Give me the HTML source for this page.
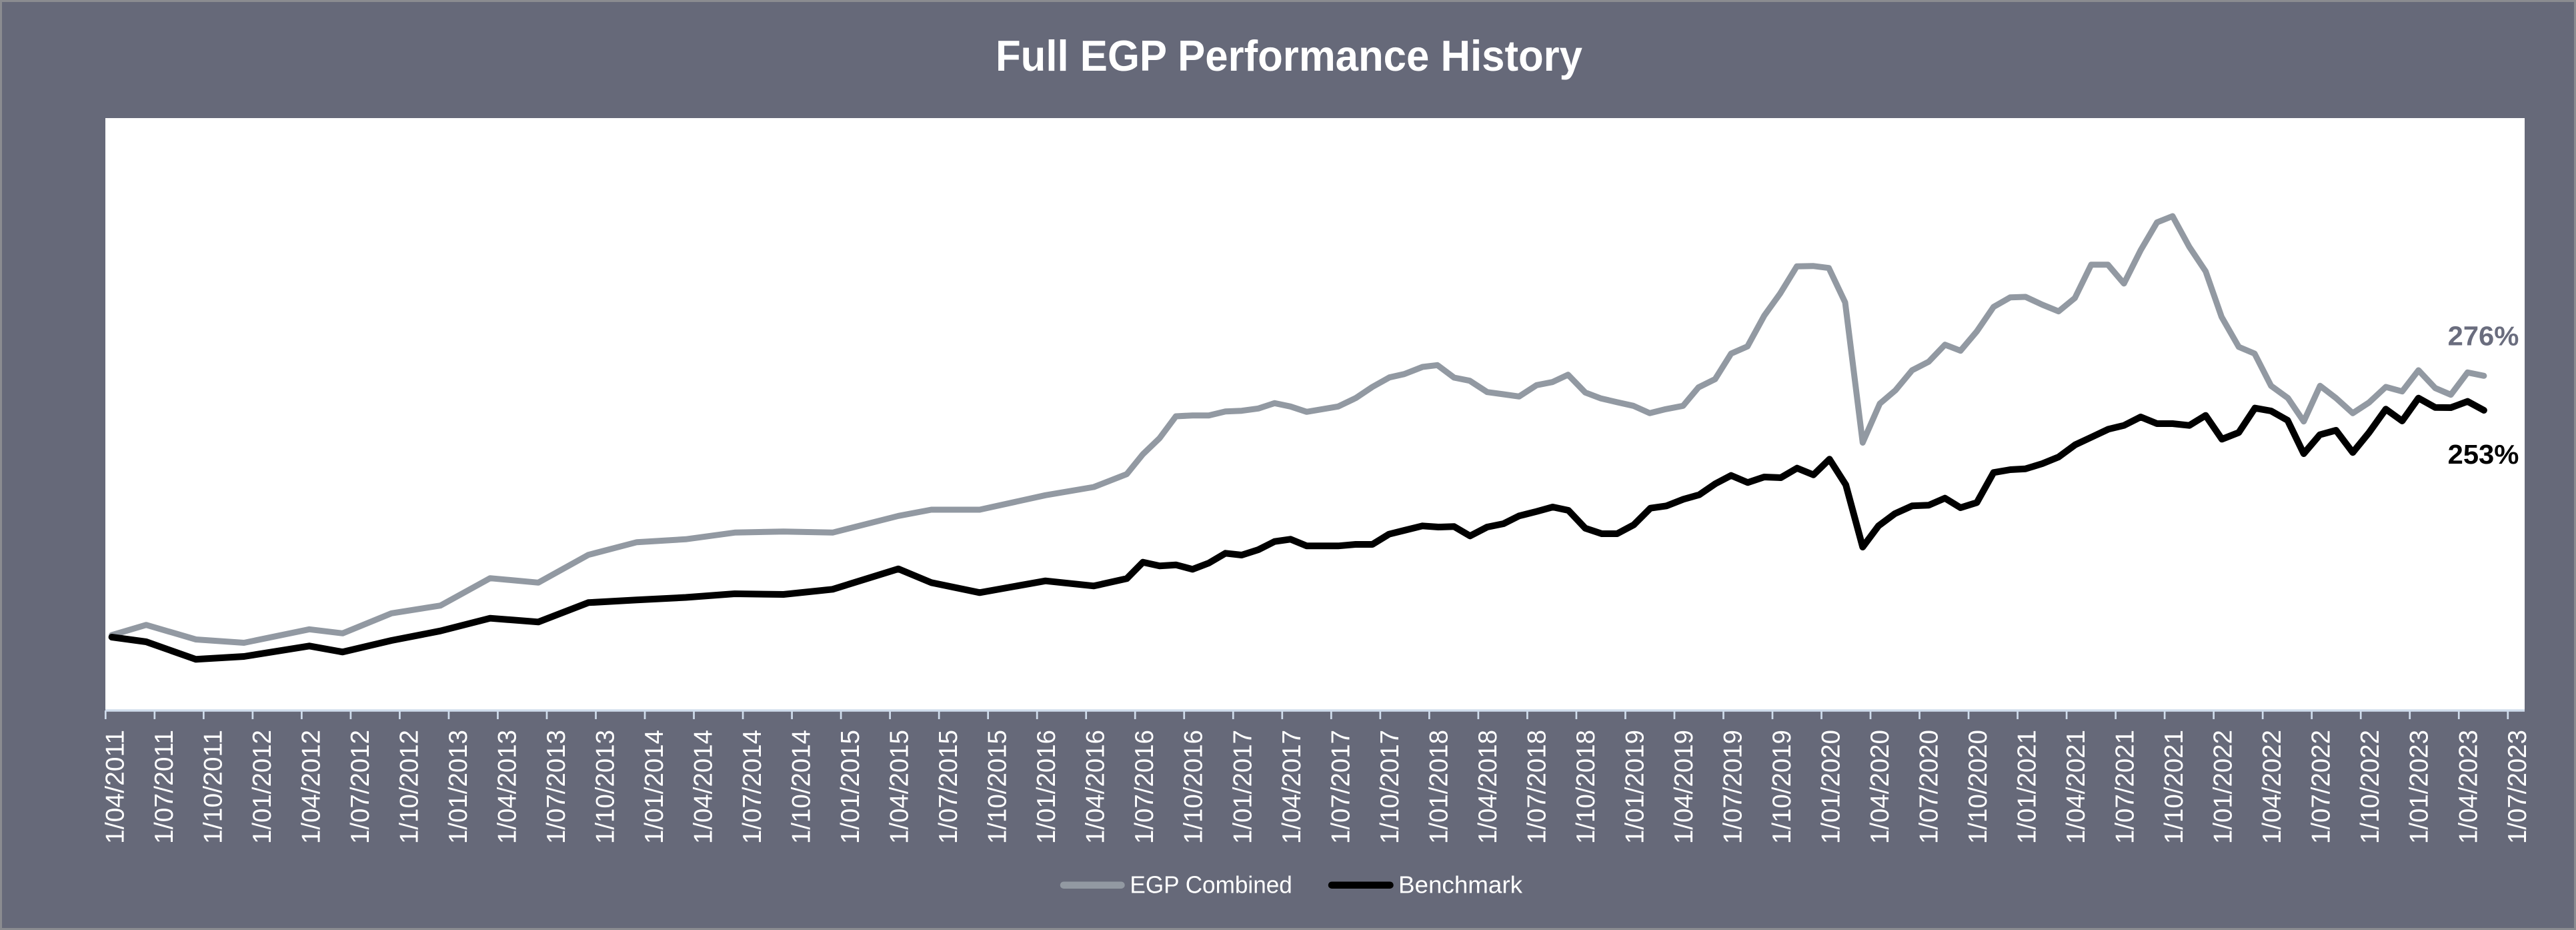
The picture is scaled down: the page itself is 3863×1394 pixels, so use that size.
<!DOCTYPE html>
<html>
<head>
<meta charset="utf-8">
<style>
html,body{margin:0;padding:0;background:#666979;}
svg{display:block;}
text{font-family:"Liberation Sans",Arial,sans-serif;}
</style>
</head>
<body>
<svg width="3863" height="1394" viewBox="0 0 3863 1394" xmlns="http://www.w3.org/2000/svg">
<rect x="0" y="0" width="3863" height="1394" fill="#666979"/>
<rect x="1.5" y="1.5" width="3860" height="1391" fill="none" stroke="#8b8c90" stroke-width="3"/>
<text x="1493" y="106" font-size="65" font-weight="bold" fill="#ffffff" textLength="880" lengthAdjust="spacingAndGlyphs">Full EGP Performance History</text>
<rect x="158" y="177" width="3628" height="888" fill="#ffffff"/>
<line x1="158" y1="1065" x2="3786" y2="1065" stroke="#cfdcec" stroke-width="3.4"/>
<g id="ticks" stroke="#cfdcec" stroke-width="2.7"></g>
<g id="labels" fill="#ffffff" font-size="39"></g>
<polyline fill="none" stroke="#9299a2" stroke-width="9" stroke-linejoin="round" stroke-linecap="round" points="167.6,952 219.2,936.7 293.8,958.5 365.9,963.5 463.9,943.3 513.8,949.3 587.1,919.3 660.5,907.7 735,866.7 807.2,873.3 882.3,831.7 955,812.7 1028.3,808.3 1101.8,798.3 1174.9,796.7 1248.6,798.3 1347.3,773.3 1396.6,764 1469.1,764 1567.8,742.3 1640.3,730 1689.7,710.7 1714,680.7 1739,656.7 1763.4,624 1788.3,622.7 1812.7,622.7 1837.7,616.7 1862,615.7 1887,612.3 1911.4,604.3 1935.2,609.3 1959.5,617.3 2006.7,609.3 2033,596.7 2058,580 2083.7,565.7 2105.9,560.7 2133.3,550 2155.5,547.3 2180.6,566 2204,570.7 2230.2,587.7 2254.7,591 2278,594.3 2304.3,577.3 2328,572.7 2351.5,561.7 2377.2,588.3 2401,597.3 2424.5,602.7 2449.5,608.3 2474,619.3 2498,613.3 2524,608.3 2547,580.7 2572,568.3 2596,530 2620.5,519.3 2645.6,473.3 2669.5,440 2694.5,399.3 2718.9,398.7 2742.5,401.7 2767,453.3 2793.3,663.5 2819,605 2842.5,585 2867.4,555 2892.2,542.3 2916.7,516.7 2940,525.7 2964.5,496.7 2989.6,460 3014.7,445.7 3037.5,445 3062.6,456.7 3087.1,466.7 3111.5,446.7 3136,396.7 3161,396.7 3185.1,425 3210.2,375 3234.7,333.3 3258,324 3283.1,370 3307.6,406.7 3331.5,475 3357.3,520 3381,530 3405.7,578.3 3431,596.7 3454.7,631.7 3479.2,578.3 3503.1,596.7 3528.2,619.3 3552.7,603.3 3577.8,580 3602.3,586.7 3626.8,555 3651.9,581.7 3675.3,591.7 3700.4,558.3 3724.9,563.3"/>
<polyline fill="none" stroke="#000000" stroke-width="10" stroke-linejoin="round" stroke-linecap="round" points="167.6,955 219.2,962 293.8,988.3 365.9,984 463.9,968.3 513.8,977.3 587.1,960 660.5,945.7 735,926.7 807.2,932.3 882.3,903.3 955,899.3 1028.3,895.5 1101.8,890 1174.9,891 1248.6,883.3 1347.3,852.7 1396.6,873.3 1469.1,888.3 1567.8,870.7 1640.3,878.3 1689.7,867.3 1714,842.7 1739,848.3 1763.4,846.7 1788.3,853.3 1812.7,844 1837.7,829.3 1862,832 1887,824 1911.4,811.7 1935.2,808.3 1959.5,818.3 2006.7,818.3 2033,816 2058,816 2083,800.7 2105.9,795 2133,788.3 2157,790 2180.6,789.3 2204.5,803.3 2230.2,790 2254.7,785 2278,773.3 2304.3,766.7 2328.5,760 2352,765 2377.2,791.7 2402,800 2425,800 2450,786.7 2475,761.7 2499,758.3 2524.5,748.3 2548,741.7 2572.5,725 2596,712.7 2621,723.3 2645.6,715 2670.5,716 2695,701.7 2719.5,711.7 2743.5,688.3 2768,726.7 2793.3,820 2817,788.3 2841.5,770 2867.4,758.3 2892.2,757.3 2916.7,746.7 2940,761 2964.5,753.3 2989.6,708.3 3014.7,704 3037.5,702.7 3062.6,695 3087.1,685 3112,666.7 3137,655 3161.8,643.3 3185.1,637.7 3210.2,625 3234.7,635 3258,635 3283.1,637.7 3307.6,622.7 3332,658.3 3357.3,648.3 3381.5,611.7 3405.7,616 3430.5,630 3454.7,680 3478.8,651.7 3503.1,645 3528.2,678.3 3552.7,648.3 3577.8,613.3 3602.3,631 3626.8,596.7 3651.9,610.7 3675.3,611 3700.4,601.7 3724.9,615"/>
<text x="3670.6" y="517.3" font-size="41" font-weight="bold" fill="#6a6d7e" textLength="106.8" lengthAdjust="spacingAndGlyphs">276%</text>
<text x="3670.6" y="695" font-size="41" font-weight="bold" fill="#000000" textLength="106.8" lengthAdjust="spacingAndGlyphs">253%</text>
<line x1="1595" y1="1326.7" x2="1681.5" y2="1326.7" stroke="#9299a2" stroke-width="10.5" stroke-linecap="round"/>
<text x="1694.4" y="1338.3" font-size="36" fill="#ffffff" textLength="243.4" lengthAdjust="spacingAndGlyphs">EGP Combined</text>
<line x1="1997" y1="1326.7" x2="2084.5" y2="1326.7" stroke="#000000" stroke-width="10.5" stroke-linecap="round"/>
<text x="2097" y="1338.3" font-size="36" fill="#ffffff" textLength="186" lengthAdjust="spacingAndGlyphs">Benchmark</text>
</svg>
<script>
(function(){
  var ns="http://www.w3.org/2000/svg";
  var tg=document.getElementById("ticks");
  var lg=document.getElementById("labels");
  var months=["04","07","10","01"];
  for(var i=0;i<50;i++){
    var x=158.3+i*73.52;
    var l=document.createElementNS(ns,"line");
    l.setAttribute("x1",x);l.setAttribute("x2",x);
    l.setAttribute("y1",1065);l.setAttribute("y2",1078);
    tg.appendChild(l);
    var m=months[i%4];
    var yr=2011+Math.floor((i+1)/4);
    var t=document.createElementNS(ns,"text");
    t.setAttribute("transform","translate("+(x+27)+",1094) rotate(-90)");
    t.setAttribute("text-anchor","end");
    t.setAttribute("textLength","171");
    t.setAttribute("lengthAdjust","spacingAndGlyphs");
    t.textContent="1/"+m+"/"+yr;
    lg.appendChild(t);
  }
})();
</script>
</body>
</html>
